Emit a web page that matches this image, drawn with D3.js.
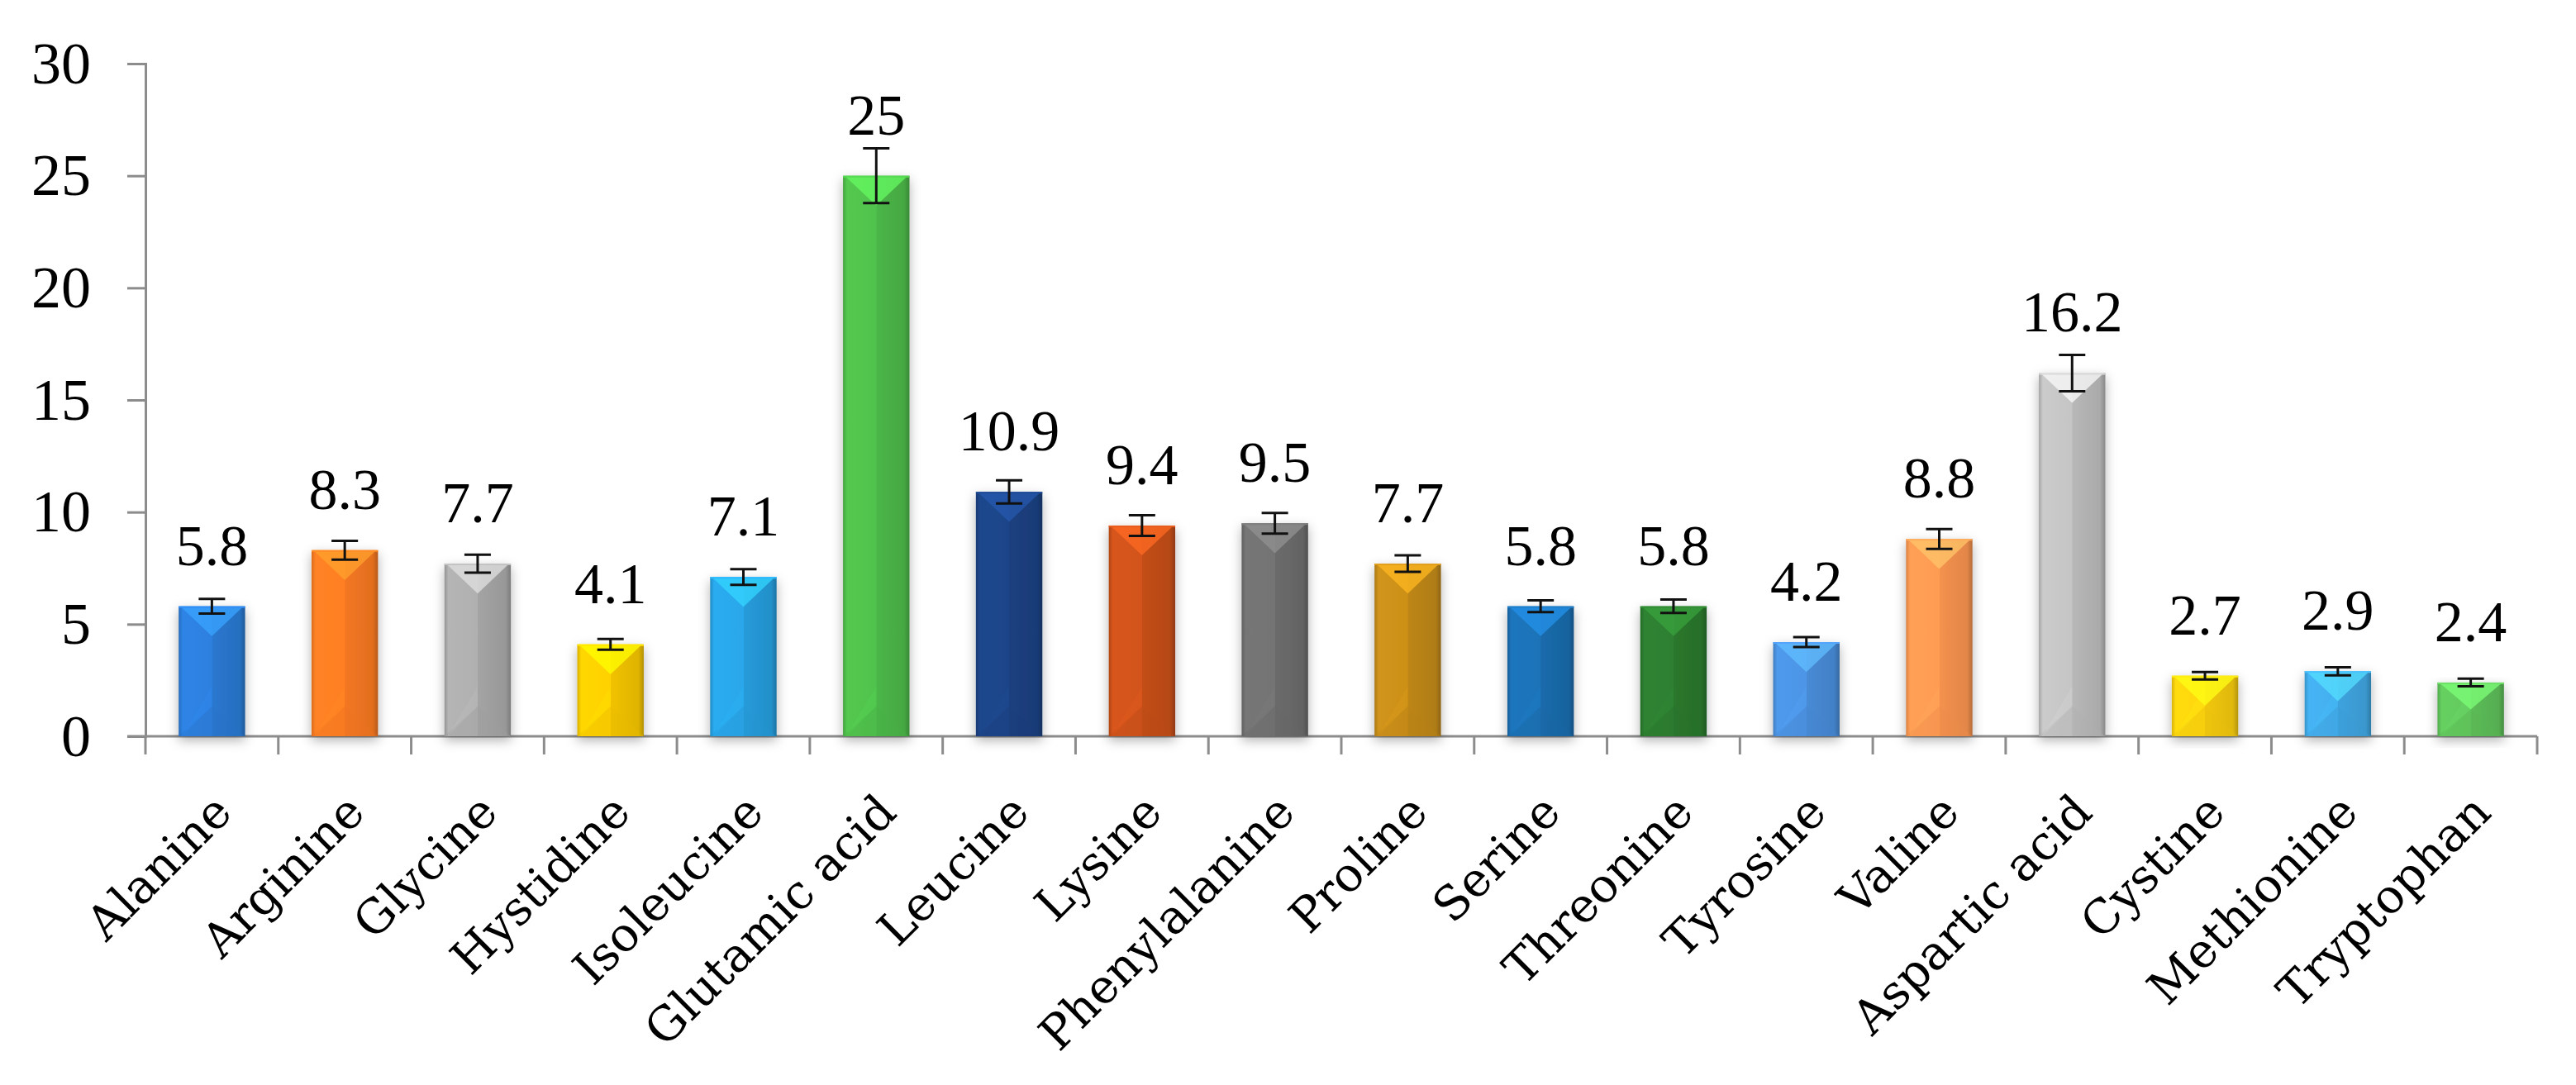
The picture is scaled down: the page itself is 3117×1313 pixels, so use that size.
<!DOCTYPE html>
<html>
<head>
<meta charset="utf-8">
<script src="https://cdn.jsdelivr.net/npm/d3@7"></script>
<style>
  html, body { margin: 0; padding: 0; background: #ffffff; }
  svg { display: block; }
</style>
</head>
<body>
<svg id="chart" width="3117" height="1313"></svg>
<script>
// ---------- data ----------
const categories = ["Alanine", "Arginine", "Glycine", "Hystidine", "Isoleucine", "Glutamic acid",
  "Leucine", "Lysine", "Phenylalanine", "Proline", "Serine", "Threonine", "Tyrosine", "Valine",
  "Aspartic acid", "Cystine", "Methionine", "Tryptophan"];
const values = [5.8, 8.3, 7.7, 4.1, 7.1, 25, 10.9, 9.4, 9.5, 7.7, 5.8, 5.8, 4.2, 8.8, 16.2, 2.7, 2.9, 2.4];
const errors = [0.33, 0.42, 0.4, 0.24, 0.35, 1.22, 0.52, 0.46, 0.46, 0.37, 0.26, 0.3, 0.22, 0.44, 0.81, 0.17, 0.18, 0.17];
const valueLabels = ["5.8", "8.3", "7.7", "4.1", "7.1", "25", "10.9", "9.4", "9.5", "7.7", "5.8", "5.8", "4.2", "8.8", "16.2", "2.7", "2.9", "2.4"];
const barColors = ["#2b7bd6", "#fb7a22", "#a9a9a9", "#f8c800", "#27a0e0", "#4dbb4a",
  "#1c4283", "#c9501a", "#6e6e6e", "#c38a18", "#1b6eb0", "#2b7a2e", "#4a8fdc", "#fb9550",
  "#bdbdbd", "#f8cd10", "#40a8e4", "#5fc25a"];
const yTicks = [0, 5, 10, 15, 20, 25, 30];

// ---------- layout ----------
const svg = d3.select("#chart");
const plotLeft = 176, plotRight = 3070, plotTop = 77, plotBottom = 891;
const axisColor = "#8c8c8c";
const serif = "'Liberation Serif', 'Times New Roman', serif";

const x = d3.scaleBand().domain(categories).range([plotLeft, plotRight]).paddingInner(0.5).paddingOuter(0.25);
const y = d3.scaleLinear().domain([0, 30]).range([plotBottom, plotTop]);

const defs = svg.append("defs");
const shadow = defs.append("filter").attr("id", "shadow")
  .attr("x", "-40%").attr("y", "-10%").attr("width", "180%").attr("height", "130%");
shadow.append("feDropShadow").attr("dx", 0).attr("dy", 5).attr("stdDeviation", 7)
  .attr("flood-color", "#000").attr("flood-opacity", 0.3);

barColors.forEach((c, i) => {
  const g = defs.append("linearGradient").attr("id", "grad" + i)
    .attr("x1", "0%").attr("x2", "100%").attr("y1", "0%").attr("y2", "0%");
  const base = d3.color(c);
  g.append("stop").attr("offset", "0%").attr("stop-color", base.darker(0.4));
  g.append("stop").attr("offset", "6%").attr("stop-color", base.brighter(0.2));
  g.append("stop").attr("offset", "50%").attr("stop-color", base.brighter(0.12));
  g.append("stop").attr("offset", "50.5%").attr("stop-color", base.darker(0.08));
  g.append("stop").attr("offset", "92%").attr("stop-color", base.darker(0.3));
  g.append("stop").attr("offset", "100%").attr("stop-color", base.darker(0.9));
});

// ---------- axes ----------
const yAxis = d3.axisLeft(y).tickValues(yTicks).tickSize(22).tickPadding(44).tickFormat(d3.format("d"));
const gy = svg.append("g").attr("transform", `translate(${plotLeft},0)`).call(yAxis);
gy.select(".domain").attr("stroke", axisColor).attr("stroke-width", 3);
gy.selectAll(".tick line").attr("stroke", axisColor).attr("stroke-width", 3);
gy.selectAll(".tick text").attr("font-family", serif).attr("font-size", 72).attr("fill", "#000");

// x axis baseline and boundary ticks
svg.append("line").attr("x1", plotLeft - 22).attr("x2", plotRight).attr("y1", y(0)).attr("y2", y(0))
  .attr("stroke", axisColor).attr("stroke-width", 3);
const tickPos = categories.map(c => x(c) + x.bandwidth() / 2 - x.step() / 2);
tickPos.push(x(categories[categories.length - 1]) + x.bandwidth() / 2 + x.step() / 2);
svg.append("g").selectAll("line").data(tickPos).join("line")
  .attr("x1", d => d).attr("x2", d => d).attr("y1", y(0)).attr("y2", y(0) + 22)
  .attr("stroke", axisColor).attr("stroke-width", 3);

// ---------- bars ----------
const bars = svg.append("g").selectAll("g").data(categories).join("g");
bars.each(function (c, i) {
  const g = d3.select(this);
  const x0 = x(c), w = x.bandwidth(), x1 = x0 + w, xc = x0 + w / 2;
  const yt = y(values[i]), yb = y(0), h = yb - yt;
  const base = d3.color(barColors[i]);
  const depth = Math.min(w * 0.45, h / 2);
  g.append("rect").attr("x", x0).attr("y", yt).attr("width", w).attr("height", h)
    .attr("fill", `url(#grad${i})`).attr("filter", "url(#shadow)");
  g.append("polygon")
    .attr("points", [[x0, yb], [x1, yb], [xc, yb - depth]].map(p => p.join(",")).join(" "))
    .attr("fill", base.darker(0.2)).attr("opacity", 0.35);
  g.append("polygon")
    .attr("points", [[x0 + 4, yb], [xc, yb - depth], [xc, yb - depth - w * 0.3]].map(p => p.join(",")).join(" "))
    .attr("fill", base.brighter(0.5)).attr("opacity", 0.2);
  g.append("polygon")
    .attr("points", [[x0 + 2, yt], [x1 - 2, yt], [xc, yt + depth]].map(p => p.join(",")).join(" "))
    .attr("fill", base.brighter(0.8)).attr("opacity", 0.75);
  g.append("line").attr("x1", x0).attr("x2", x1).attr("y1", yt + 1).attr("y2", yt + 1)
    .attr("stroke", base.brighter(0.4)).attr("stroke-width", 2);
});

// ---------- error bars ----------
const capW = 32;
const eb = svg.append("g").selectAll("g").data(categories).join("g")
  .attr("stroke", "#111").attr("stroke-width", 3);
eb.append("line")
  .attr("x1", c => x(c) + x.bandwidth() / 2).attr("x2", c => x(c) + x.bandwidth() / 2)
  .attr("y1", (c, i) => y(values[i] + errors[i])).attr("y2", (c, i) => y(values[i] - errors[i]));
eb.append("line")
  .attr("x1", c => x(c) + x.bandwidth() / 2 - capW / 2).attr("x2", c => x(c) + x.bandwidth() / 2 + capW / 2)
  .attr("y1", (c, i) => y(values[i] + errors[i])).attr("y2", (c, i) => y(values[i] + errors[i]));
eb.append("line")
  .attr("x1", c => x(c) + x.bandwidth() / 2 - capW / 2).attr("x2", c => x(c) + x.bandwidth() / 2 + capW / 2)
  .attr("y1", (c, i) => y(values[i] - errors[i])).attr("y2", (c, i) => y(values[i] - errors[i]));

// ---------- value labels ----------
svg.append("g").selectAll("text").data(categories).join("text")
  .attr("x", c => x(c) + x.bandwidth() / 2)
  .attr("y", (c, i) => y(values[i]) - 50)
  .attr("text-anchor", "middle")
  .attr("font-family", serif).attr("font-size", 70).attr("fill", "#000")
  .text((c, i) => valueLabels[i]);

// ---------- category labels ----------
svg.append("g").selectAll("text").data(categories).join("text")
  .attr("transform", c => `translate(${x(c) + x.bandwidth() / 2 + 27},${y(0) + 95}) rotate(-45)`)
  .attr("text-anchor", "end")
  .attr("font-family", "'DejaVu Serif', serif").attr("font-size", 57).attr("fill", "#000")
  .text(c => c);
</script>
</body>
</html>
